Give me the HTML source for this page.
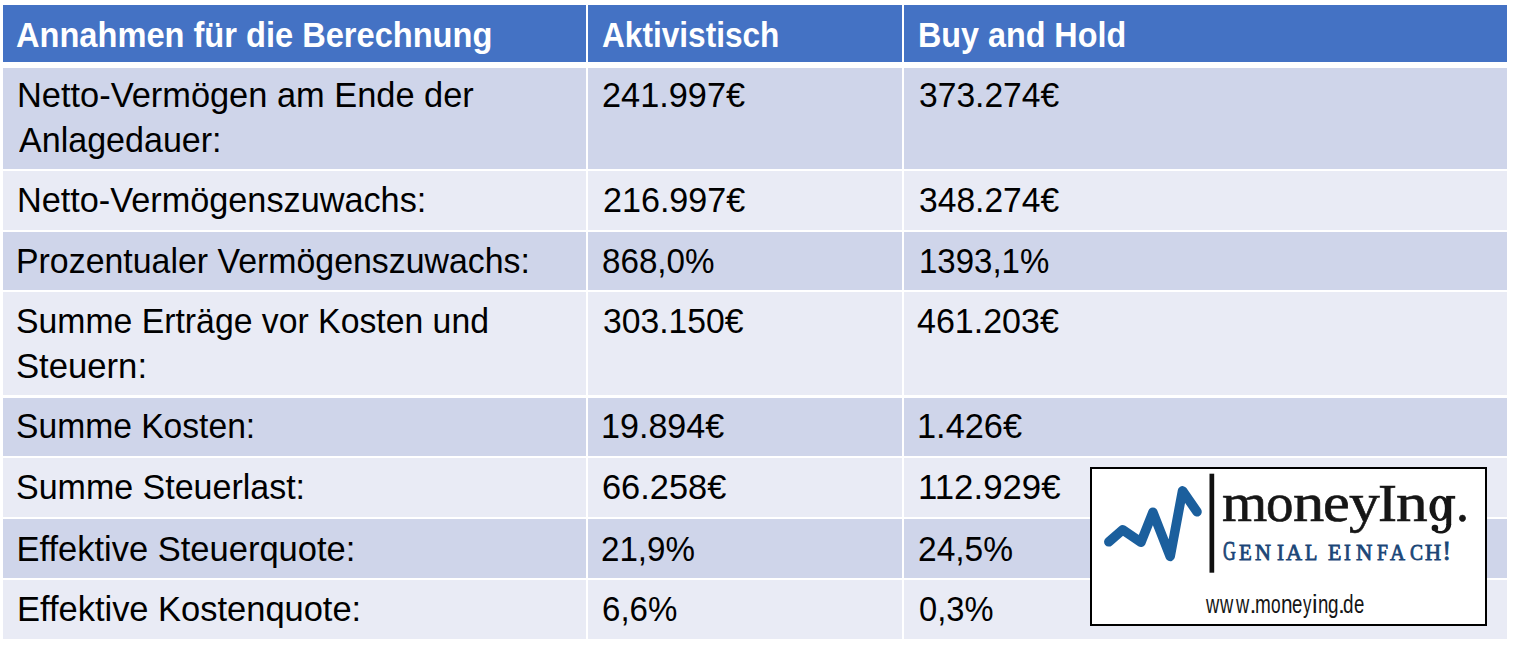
<!DOCTYPE html>
<html><head><meta charset="utf-8"><style>
html,body{margin:0;padding:0;background:#fff;width:1513px;height:655px;overflow:hidden}
body{position:relative;font-family:"Liberation Sans",sans-serif}
.r{position:absolute}
.t{position:absolute;white-space:nowrap;transform-origin:0 0}
</style></head><body>
<div class="r" style="left:3px;top:5px;width:583px;height:56.5px;background:#4472C4"></div>
<div class="r" style="left:588px;top:5px;width:314px;height:56.5px;background:#4472C4"></div>
<div class="r" style="left:904px;top:5px;width:603px;height:56.5px;background:#4472C4"></div>
<div class="r" style="left:3px;top:68px;width:583px;height:100.7px;background:#CFD5EA"></div>
<div class="r" style="left:588px;top:68px;width:314px;height:100.7px;background:#CFD5EA"></div>
<div class="r" style="left:904px;top:68px;width:603px;height:100.7px;background:#CFD5EA"></div>
<div class="r" style="left:3px;top:171px;width:583px;height:58.8px;background:#E9EBF5"></div>
<div class="r" style="left:588px;top:171px;width:314px;height:58.8px;background:#E9EBF5"></div>
<div class="r" style="left:904px;top:171px;width:603px;height:58.8px;background:#E9EBF5"></div>
<div class="r" style="left:3px;top:232px;width:583px;height:58.0px;background:#CFD5EA"></div>
<div class="r" style="left:588px;top:232px;width:314px;height:58.0px;background:#CFD5EA"></div>
<div class="r" style="left:904px;top:232px;width:603px;height:58.0px;background:#CFD5EA"></div>
<div class="r" style="left:3px;top:292.2px;width:583px;height:103.1px;background:#E9EBF5"></div>
<div class="r" style="left:588px;top:292.2px;width:314px;height:103.1px;background:#E9EBF5"></div>
<div class="r" style="left:904px;top:292.2px;width:603px;height:103.1px;background:#E9EBF5"></div>
<div class="r" style="left:3px;top:397.5px;width:583px;height:58.3px;background:#CFD5EA"></div>
<div class="r" style="left:588px;top:397.5px;width:314px;height:58.3px;background:#CFD5EA"></div>
<div class="r" style="left:904px;top:397.5px;width:603px;height:58.3px;background:#CFD5EA"></div>
<div class="r" style="left:3px;top:458px;width:583px;height:59.3px;background:#E9EBF5"></div>
<div class="r" style="left:588px;top:458px;width:314px;height:59.3px;background:#E9EBF5"></div>
<div class="r" style="left:904px;top:458px;width:603px;height:59.3px;background:#E9EBF5"></div>
<div class="r" style="left:3px;top:519.3px;width:583px;height:58.3px;background:#CFD5EA"></div>
<div class="r" style="left:588px;top:519.3px;width:314px;height:58.3px;background:#CFD5EA"></div>
<div class="r" style="left:904px;top:519.3px;width:603px;height:58.3px;background:#CFD5EA"></div>
<div class="r" style="left:3px;top:580px;width:583px;height:58.8px;background:#E9EBF5"></div>
<div class="r" style="left:588px;top:580px;width:314px;height:58.8px;background:#E9EBF5"></div>
<div class="r" style="left:904px;top:580px;width:603px;height:58.8px;background:#E9EBF5"></div>
<div class="t" style="left:16.00px;top:17.80px;font-family:'Liberation Sans',sans-serif;font-size:34.5px;line-height:34.5px;color:#fff;font-weight:bold;transform:scaleX(0.9449);">Annahmen für die Berechnung</div>
<div class="t" style="left:602.09px;top:17.80px;font-family:'Liberation Sans',sans-serif;font-size:34.5px;line-height:34.5px;color:#fff;font-weight:bold;transform:scaleX(0.9161);">Aktivistisch</div>
<div class="t" style="left:918.03px;top:17.80px;font-family:'Liberation Sans',sans-serif;font-size:34.5px;line-height:34.5px;color:#fff;font-weight:bold;transform:scaleX(0.9361);">Buy and Hold</div>
<div class="t" style="left:16.80px;top:77.60px;font-family:'Liberation Sans',sans-serif;font-size:34.5px;line-height:34.5px;color:#000;transform:scaleX(0.9966);">Netto-Vermögen am Ende der</div>
<div class="t" style="left:18.50px;top:122.60px;font-family:'Liberation Sans',sans-serif;font-size:34.5px;line-height:34.5px;color:#000;transform:scaleX(0.9869);">Anlagedauer:</div>
<div class="t" style="left:16.81px;top:182.60px;font-family:'Liberation Sans',sans-serif;font-size:34.5px;line-height:34.5px;color:#000;transform:scaleX(0.9927);">Netto-Vermögenszuwachs:</div>
<div class="t" style="left:16.24px;top:243.80px;font-family:'Liberation Sans',sans-serif;font-size:34.5px;line-height:34.5px;color:#000;transform:scaleX(0.9816);">Prozentualer Vermögenszuwachs:</div>
<div class="t" style="left:16.02px;top:304.10px;font-family:'Liberation Sans',sans-serif;font-size:34.5px;line-height:34.5px;color:#000;transform:scaleX(0.9787);">Summe Erträge vor Kosten und</div>
<div class="t" style="left:15.98px;top:349.20px;font-family:'Liberation Sans',sans-serif;font-size:34.5px;line-height:34.5px;color:#000;transform:scaleX(1.0046);">Steuern:</div>
<div class="t" style="left:16.02px;top:409.20px;font-family:'Liberation Sans',sans-serif;font-size:34.5px;line-height:34.5px;color:#000;transform:scaleX(0.9746);">Summe Kosten:</div>
<div class="t" style="left:16.01px;top:470.40px;font-family:'Liberation Sans',sans-serif;font-size:34.5px;line-height:34.5px;color:#000;transform:scaleX(0.9853);">Summe Steuerlast:</div>
<div class="t" style="left:16.49px;top:531.60px;font-family:'Liberation Sans',sans-serif;font-size:34.5px;line-height:34.5px;color:#000;">Effektive Steuerquote:</div>
<div class="t" style="left:16.50px;top:592.20px;font-family:'Liberation Sans',sans-serif;font-size:34.5px;line-height:34.5px;color:#000;transform:scaleX(0.9988);">Effektive Kostenquote:</div>
<div class="t" style="left:601.72px;top:77.65px;font-family:'Liberation Sans',sans-serif;font-size:35.5px;line-height:35.5px;color:#000;transform:scaleX(0.9661);">241.997€</div>
<div class="t" style="left:602.63px;top:182.65px;font-family:'Liberation Sans',sans-serif;font-size:35.5px;line-height:35.5px;color:#000;transform:scaleX(0.9606);">216.997€</div>
<div class="t" style="left:602.27px;top:243.85px;font-family:'Liberation Sans',sans-serif;font-size:35.5px;line-height:35.5px;color:#000;transform:scaleX(0.9341);">868,0%</div>
<div class="t" style="left:602.95px;top:304.15px;font-family:'Liberation Sans',sans-serif;font-size:35.5px;line-height:35.5px;color:#000;transform:scaleX(0.9490);">303.150€</div>
<div class="t" style="left:600.97px;top:409.25px;font-family:'Liberation Sans',sans-serif;font-size:35.5px;line-height:35.5px;color:#000;transform:scaleX(0.9601);">19.894€</div>
<div class="t" style="left:601.51px;top:470.45px;font-family:'Liberation Sans',sans-serif;font-size:35.5px;line-height:35.5px;color:#000;transform:scaleX(0.9682);">66.258€</div>
<div class="t" style="left:601.44px;top:531.65px;font-family:'Liberation Sans',sans-serif;font-size:35.5px;line-height:35.5px;color:#000;transform:scaleX(0.9338);">21,9%</div>
<div class="t" style="left:601.53px;top:592.25px;font-family:'Liberation Sans',sans-serif;font-size:35.5px;line-height:35.5px;color:#000;transform:scaleX(0.9308);">6,6%</div>
<div class="t" style="left:919.05px;top:77.65px;font-family:'Liberation Sans',sans-serif;font-size:35.5px;line-height:35.5px;color:#000;transform:scaleX(0.9469);">373.274€</div>
<div class="t" style="left:919.05px;top:182.65px;font-family:'Liberation Sans',sans-serif;font-size:35.5px;line-height:35.5px;color:#000;transform:scaleX(0.9469);">348.274€</div>
<div class="t" style="left:918.64px;top:243.85px;font-family:'Liberation Sans',sans-serif;font-size:35.5px;line-height:35.5px;color:#000;transform:scaleX(0.9297);">1393,1%</div>
<div class="t" style="left:917.39px;top:304.15px;font-family:'Liberation Sans',sans-serif;font-size:35.5px;line-height:35.5px;color:#000;transform:scaleX(0.9582);">461.203€</div>
<div class="t" style="left:917.44px;top:409.25px;font-family:'Liberation Sans',sans-serif;font-size:35.5px;line-height:35.5px;color:#000;transform:scaleX(0.9673);">1.426€</div>
<div class="t" style="left:918.02px;top:470.45px;font-family:'Liberation Sans',sans-serif;font-size:35.5px;line-height:35.5px;color:#000;transform:scaleX(0.9801);">112.929€</div>
<div class="t" style="left:917.53px;top:531.65px;font-family:'Liberation Sans',sans-serif;font-size:35.5px;line-height:35.5px;color:#000;transform:scaleX(0.9439);">24,5%</div>
<div class="t" style="left:918.57px;top:592.25px;font-family:'Liberation Sans',sans-serif;font-size:35.5px;line-height:35.5px;color:#000;transform:scaleX(0.9202);">0,3%</div>
<div class="r" style="left:1090px;top:467px;width:393px;height:155px;border:2px solid #000;background:#fff"></div>
<svg class="r" style="left:0;top:0" width="1513" height="655" viewBox="0 0 1513 655">
<polyline points="1108.8,541.8 1122.6,529.8 1141,542.3 1152.9,512.2 1170.2,556.5 1182.5,490.8 1197,511.8" fill="none" stroke="#1b5f9d" stroke-width="9.5" stroke-linecap="round" stroke-linejoin="round"/>
<rect x="1209.5" y="473.7" width="4.7" height="99" fill="#111"/>
<g fill="#161616"><ellipse cx="1439.75" cy="508.35" rx="10.25" ry="12.65"/><ellipse cx="1440.1" cy="508.55" rx="4.8" ry="10.2" fill="#fff"/>
<rect x="1446.3" y="496.4" width="4.9" height="28.5"/><rect x="1446.3" y="495.9" width="8.9" height="2.8"/>
<path d="M1451.2,524 C1451.2,530 1446.3,533.6 1440.2,533.6 C1437.2,533.6 1434.6,532.4 1433.6,530 L1436.6,529 C1437.6,530.6 1438.9,531.1 1440.4,531.1 C1444.4,531.1 1446.3,528.2 1446.3,524 Z"/>
<circle cx="1434.9" cy="528" r="3.3"/></g>
</svg>
<div class="t" style="left:1222.02px;top:475.98px;font-family:'Liberation Serif',serif;font-size:54.0px;line-height:54.0px;color:#161616;transform:scaleX(1.0783);-webkit-text-stroke:0.6px #161616;">m</div>
<div class="t" style="left:1265.77px;top:475.98px;font-family:'Liberation Serif',serif;font-size:54.0px;line-height:54.0px;color:#161616;transform:scaleX(1.0176);-webkit-text-stroke:0.6px #161616;">o</div>
<div class="t" style="left:1292.84px;top:475.98px;font-family:'Liberation Serif',serif;font-size:54.0px;line-height:54.0px;color:#161616;transform:scaleX(1.1582);-webkit-text-stroke:0.6px #161616;">n</div>
<div class="t" style="left:1322.99px;top:475.98px;font-family:'Liberation Serif',serif;font-size:54.0px;line-height:54.0px;color:#161616;transform:scaleX(1.1154);-webkit-text-stroke:0.6px #161616;">e</div>
<div class="t" style="left:1349.19px;top:475.98px;font-family:'Liberation Serif',serif;font-size:54.0px;line-height:54.0px;color:#161616;transform:scaleX(1.1411);-webkit-text-stroke:0.6px #161616;">y</div>
<div class="t" style="left:1377.80px;top:476.81px;font-family:'Liberation Serif',serif;font-size:53.0px;line-height:53.0px;color:#161616;transform:scaleX(1.0750);-webkit-text-stroke:0.6px #161616;">I</div>
<div class="t" style="left:1396.13px;top:475.98px;font-family:'Liberation Serif',serif;font-size:54.0px;line-height:54.0px;color:#161616;transform:scaleX(1.1734);-webkit-text-stroke:0.6px #161616;">n</div>
<div class="t" style="left:1456.13px;top:475.98px;font-family:'Liberation Serif',serif;font-size:54.0px;line-height:54.0px;color:#161616;transform:scaleX(0.9578);-webkit-text-stroke:0.6px #161616;">.</div>
<div class="t" style="left:1205.56px;top:591.54px;font-family:'Liberation Sans',sans-serif;font-size:25.0px;line-height:25.0px;color:#151515;transform:scaleX(0.7323);">w</div>
<div class="t" style="left:1220.21px;top:591.54px;font-family:'Liberation Sans',sans-serif;font-size:25.0px;line-height:25.0px;color:#151515;transform:scaleX(0.7323);">w</div>
<div class="t" style="left:1235.82px;top:591.54px;font-family:'Liberation Sans',sans-serif;font-size:25.0px;line-height:25.0px;color:#151515;transform:scaleX(0.7323);">w</div>
<div class="t" style="left:1249.45px;top:591.54px;font-family:'Liberation Sans',sans-serif;font-size:25.0px;line-height:25.0px;color:#151515;">.</div>
<div class="t" style="left:1254.94px;top:591.54px;font-family:'Liberation Sans',sans-serif;font-size:25.0px;line-height:25.0px;color:#151515;transform:scaleX(0.7600);">m</div>
<div class="t" style="left:1270.89px;top:591.54px;font-family:'Liberation Sans',sans-serif;font-size:25.0px;line-height:25.0px;color:#151515;transform:scaleX(0.6920);">o</div>
<div class="t" style="left:1281.49px;top:591.54px;font-family:'Liberation Sans',sans-serif;font-size:25.0px;line-height:25.0px;color:#151515;transform:scaleX(0.8282);">n</div>
<div class="t" style="left:1291.63px;top:591.54px;font-family:'Liberation Sans',sans-serif;font-size:25.0px;line-height:25.0px;color:#151515;transform:scaleX(0.7445);">e</div>
<div class="t" style="left:1302.70px;top:591.54px;font-family:'Liberation Sans',sans-serif;font-size:25.0px;line-height:25.0px;color:#151515;transform:scaleX(0.6795);">y</div>
<div class="t" style="left:1311.90px;top:591.54px;font-family:'Liberation Sans',sans-serif;font-size:25.0px;line-height:25.0px;color:#151515;">i</div>
<div class="t" style="left:1318.26px;top:591.54px;font-family:'Liberation Sans',sans-serif;font-size:25.0px;line-height:25.0px;color:#151515;transform:scaleX(0.7445);">n</div>
<div class="t" style="left:1328.34px;top:591.54px;font-family:'Liberation Sans',sans-serif;font-size:25.0px;line-height:25.0px;color:#151515;transform:scaleX(0.7563);">g</div>
<div class="t" style="left:1337.90px;top:591.54px;font-family:'Liberation Sans',sans-serif;font-size:25.0px;line-height:25.0px;color:#151515;">.</div>
<div class="t" style="left:1343.24px;top:591.54px;font-family:'Liberation Sans',sans-serif;font-size:25.0px;line-height:25.0px;color:#151515;transform:scaleX(0.7563);">d</div>
<div class="t" style="left:1353.57px;top:591.54px;font-family:'Liberation Sans',sans-serif;font-size:25.0px;line-height:25.0px;color:#151515;transform:scaleX(0.7445);">e</div>
<div class="t" style="left:1222.71px;top:538.35px;font-family:'Liberation Serif',serif;font-size:26.8px;line-height:26.8px;color:#1b4677;transform:scaleX(0.6627);-webkit-text-stroke:0.8px #1b4677;">G</div>
<div class="t" style="left:1239.00px;top:541.70px;font-family:'Liberation Serif',serif;font-size:22.8px;line-height:22.8px;color:#1b4677;transform:scaleX(0.9176);-webkit-text-stroke:0.8px #1b4677;">E</div>
<div class="t" style="left:1254.88px;top:541.70px;font-family:'Liberation Serif',serif;font-size:22.8px;line-height:22.8px;color:#1b4677;transform:scaleX(0.9698);-webkit-text-stroke:0.8px #1b4677;">N</div>
<div class="t" style="left:1277.29px;top:541.70px;font-family:'Liberation Serif',serif;font-size:22.8px;line-height:22.8px;color:#1b4677;transform:scaleX(0.9167);-webkit-text-stroke:0.8px #1b4677;">I</div>
<div class="t" style="left:1285.70px;top:541.70px;font-family:'Liberation Serif',serif;font-size:22.8px;line-height:22.8px;color:#1b4677;transform:scaleX(0.9769);-webkit-text-stroke:0.8px #1b4677;">A</div>
<div class="t" style="left:1304.87px;top:541.70px;font-family:'Liberation Serif',serif;font-size:22.8px;line-height:22.8px;color:#1b4677;transform:scaleX(0.8863);-webkit-text-stroke:0.8px #1b4677;">L</div>
<div class="t" style="left:1328.18px;top:541.70px;font-family:'Liberation Serif',serif;font-size:22.8px;line-height:22.8px;color:#1b4677;transform:scaleX(0.9631);-webkit-text-stroke:0.8px #1b4677;">E</div>
<div class="t" style="left:1344.39px;top:541.70px;font-family:'Liberation Serif',serif;font-size:22.8px;line-height:22.8px;color:#1b4677;transform:scaleX(0.8916);-webkit-text-stroke:0.8px #1b4677;">I</div>
<div class="t" style="left:1355.52px;top:541.70px;font-family:'Liberation Serif',serif;font-size:22.8px;line-height:22.8px;color:#1b4677;transform:scaleX(0.9951);-webkit-text-stroke:0.8px #1b4677;">N</div>
<div class="t" style="left:1377.00px;top:541.70px;font-family:'Liberation Serif',serif;font-size:22.8px;line-height:22.8px;color:#1b4677;transform:scaleX(0.8634);-webkit-text-stroke:0.8px #1b4677;">F</div>
<div class="t" style="left:1389.92px;top:541.70px;font-family:'Liberation Serif',serif;font-size:22.8px;line-height:22.8px;color:#1b4677;transform:scaleX(0.9127);-webkit-text-stroke:0.8px #1b4677;">A</div>
<div class="t" style="left:1409.80px;top:541.70px;font-family:'Liberation Serif',serif;font-size:22.8px;line-height:22.8px;color:#1b4677;transform:scaleX(0.8571);-webkit-text-stroke:0.8px #1b4677;">C</div>
<div class="t" style="left:1425.10px;top:541.70px;font-family:'Liberation Serif',serif;font-size:22.8px;line-height:22.8px;color:#1b4677;transform:scaleX(0.9814);-webkit-text-stroke:0.8px #1b4677;">H</div>
<div class="t" style="left:1442.15px;top:538.35px;font-family:'Liberation Serif',serif;font-size:26.8px;line-height:26.8px;color:#1b4677;-webkit-text-stroke:0.8px #1b4677;">!</div>
</body></html>
